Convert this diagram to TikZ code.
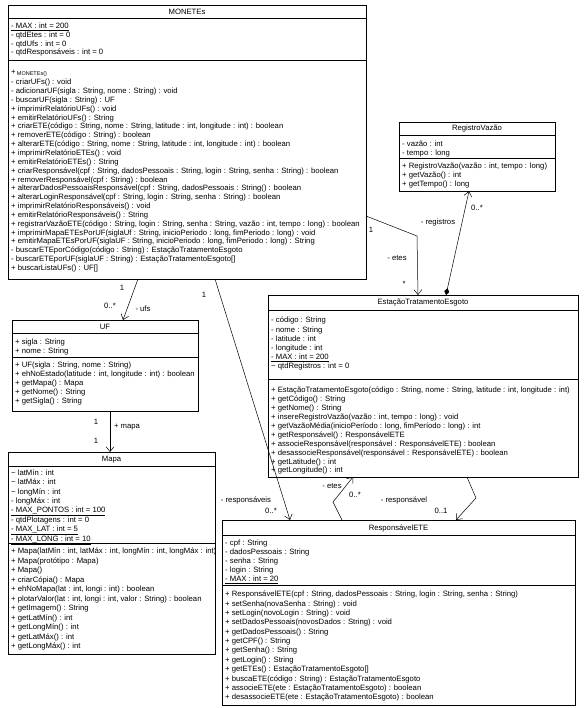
\documentclass[tikz,border=0pt]{standalone}
\usepackage{fontspec}
\setmainfont{Liberation Sans}
\usetikzlibrary{arrows.meta}
\newcommand\cfs[1]{\fontsize{7.7}{#1}\selectfont}
\newcommand\st{\rule{0pt}{6pt}}
\begin{document}
\begin{tikzpicture}[x=1pt,y=-1pt,
  classbox/.style={draw, line width=0.9pt, inner sep=0pt, outer sep=0pt, anchor=north west},
  sepline/.style={line width=0.6pt},
  ctitle/.style={font=\cfs{9}, inner sep=0pt},
  ctext/.style={font=\cfs{#1}, align=left, inner sep=0pt, anchor=north west},
  lbl/.style={font=\cfs{9}, inner sep=0pt},
  assoc/.style={line width=0.5pt, -{Straight Barb[length=5pt,width=8pt]}},
  comp/.style={line width=0.5pt, {Diamond[length=7pt,width=5pt,fill=black]}-{Straight Barb[length=5pt,width=8pt]}}
]
\useasboundingbox (0,0) rectangle (584,708);
\fill[white] (0,0) rectangle (584,708);

% ---------------- MONETEs ----------------
\node[classbox, minimum width=358pt, minimum height=274pt] (mon) at (8,5) {};
\node[ctitle] (monT) at (187,11.5) {MONETEs};
\draw[sepline] ([yshift=-13pt]mon.north west) -- ([yshift=-13pt]mon.north east);
\draw[sepline] ([yshift=-55pt]mon.north west) -- ([yshift=-55pt]mon.north east);
\node[ctext=8.7] (monA) at (11,22.6) {\st\underline{- MAX : int = 200}\\
- qtdEtes : int = 0\\
- qtdUfs : int = 0\\
- qtdResponsáveis : int = 0};
\node[ctext=8.85] (monM) at (11,69.6) {\st\raisebox{1pt}{+}\,{\fontsize{5.5}{8.85}\selectfont MONETEs()}\\
- criarUFs() : void\\
- adicionarUF(sigla : String, nome : String) : void\\
- buscarUF(sigla : String) : UF\\
+ imprimirRelatórioUFs() : void\\
+ emitirRelatórioUFs() : String\\
+ criarETE(código : String, nome : String, latitude : int, longitude : int) : boolean\\
+ removerETE(código : String) : boolean\\
+ alterarETE(código : String, nome : String, latitude : int, longitude : int) : boolean\\
+ imprimirRelatórioETEs() : void\\
+ emitirRelatórioETEs() : String\\
+ criarResponsável(cpf : String, dadosPessoais : String, login : String, senha : String) : boolean\\
+ removerResponsável(cpf : String) : boolean\\
+ alterarDadosPessoaisResponsável(cpf : String, dadosPessoais : String() : boolean\\
+ alterarLoginResponsável(cpf : String, login : String, senha : String) : boolean\\
+ imprimirRelatórioResponsáveis() : void\\
+ emitirRelatórioResponsáveis() : String\\
+ registrarVazãoETE(código : String, login : String, senha : String, vazão : int, tempo : long) : boolean\\
+ imprimirMapaETEsPorUF(siglaUf : String, inicioPeriodo : long, fimPeriodo : long) : void\\
+ emitirMapaETEsPorUF(siglaUF : String, inicioPeriodo : long, fimPeriodo : long) : String\\
- buscarETEporCódigo(código : String) : EstaçãoTratamentoEsgoto\\
- buscarETEporUF(siglaUF : String) : EstaçãoTratamentoEsgoto[]\\
+ buscarListaUFs() : UF[]};

% ---------------- RegistroVazão ----------------
\node[classbox, minimum width=156pt, minimum height=69pt] (rv) at (399,122) {};
\node[ctitle] (rvT) at (477,129) {RegistroVazão};
\draw[sepline] ([yshift=-13pt]rv.north west) -- ([yshift=-13pt]rv.north east);
\draw[sepline] ([yshift=-36pt]rv.north west) -- ([yshift=-36pt]rv.north east);
\node[ctext=8.5] (rvA) at (402,140.6) {\st - vazão : int\\
- tempo : long};
\node[ctext=9] (rvM) at (402,162.6) {\st + RegistroVazão(vazão : int, tempo : long)\\
+ getVazão() : int\\
+ getTempo() : long};

% ---------------- EstaçãoTratamentoEsgoto ----------------
\node[classbox, minimum width=310pt, minimum height=182pt] (est) at (268,295) {};
\node[ctitle] (estT) at (423,303) {EstaçãoTratamentoEsgoto};
\draw[sepline] ([yshift=-15pt]est.north west) -- ([yshift=-15pt]est.north east);
\draw[sepline] ([yshift=-84pt]est.north west) -- ([yshift=-84pt]est.north east);
\node[ctext=9.2] (estA) at (271,316.6) {\st - código : String\\
- nome : String\\
- latitude : int\\
- longitude : int\\
\underline{- MAX : int = 200}\\
\textasciitilde{} qtdRegistros : int = 0};
\node[ctext=8.9] (estM) at (271,386.6) {\st + EstaçãoTratamentoEsgoto(código : String, nome : String, latitude : int, longitude : int)\\
+ getCódigo() : String\\
+ getNome() : String\\
+ insereRegistroVazão(vazão : int, tempo : long) : void\\
+ getVazãoMédia(inicioPeríodo : long, fimPeríodo : long) : int\\
+ getResponsável() : ResponsávelETE\\
+ associeResponsável(responsável : ResponsávelETE) : boolean\\
+ desassocieResponsável(responsável : ResponsávelETE) : boolean\\
+ getLatitude() : int\\
+ getLongitude() : int};

% ---------------- UF ----------------
\node[classbox, minimum width=186pt, minimum height=91pt] (uf) at (12,320) {};
\node[ctitle] (ufT) at (105,327) {UF};
\draw[sepline] ([yshift=-13pt]uf.north west) -- ([yshift=-13pt]uf.north east);
\draw[sepline] ([yshift=-37pt]uf.north west) -- ([yshift=-37pt]uf.north east);
\node[ctext=9] (ufA) at (15,338.6) {\st + sigla : String\\
+ nome : String};
\node[ctext=9] (ufM) at (15,361.6) {\st + UF(sigla : String, nome : String)\\
+ ehNoEstado(latitude : int, longitude : int) : boolean\\
+ getMapa() : Mapa\\
+ getNome() : String\\
+ getSigla() : String};

% ---------------- Mapa ----------------
\node[classbox, minimum width=207pt, minimum height=202pt] (mapa) at (8,452) {};
\node[ctitle] (mapaT) at (111.5,460) {Mapa};
\draw[sepline] ([yshift=-14pt]mapa.north west) -- ([yshift=-14pt]mapa.north east);
\draw[sepline] ([yshift=-91pt]mapa.north west) -- ([yshift=-91pt]mapa.north east);
\node[ctext=9.1] (mapaA) at (11,469.6) {\st \textasciitilde{} latMín : int\\
\textasciitilde{} latMáx : int\\
\textasciitilde{} longMín : int\\
- longMáx : int\\
\underline{- MAX\_PONTOS : int = 100}\\
- qtdPlotagens : int = 0\\
\underline{- MAX\_LAT : int = 5}\\
\underline{- MAX\_LONG : int = 10}};
\node[ctext=9.5] (mapaM) at (11,547.6) {\st + Mapa(latMín : int, latMáx : int, longMín : int, longMáx : int)\\
+ Mapa(protótipo : Mapa)\\
+ Mapa()\\
+ criarCópia() : Mapa\\
+ ehNoMapa(lat : int, longi : int) : boolean\\
+ plotarValor(lat : int, longi : int, valor : String) : boolean\\
+ getImagem() : String\\
+ getLatMín() : int\\
+ getLongMín() : int\\
+ getLatMáx() : int\\
+ getLongMáx() : int};

% ---------------- ResponsávelETE ----------------
\node[classbox, minimum width=353pt, minimum height=185pt] (resp) at (222,520) {};
\node[ctitle] (respT) at (398.5,528) {ResponsávelETE};
\draw[sepline] ([yshift=-15pt]resp.north west) -- ([yshift=-15pt]resp.north east);
\draw[sepline] ([yshift=-65pt]resp.north west) -- ([yshift=-65pt]resp.north east);
\node[ctext=9] (respA) at (225,539.6) {\st - cpf : String\\
- dadosPessoais : String\\
- senha : String\\
- login : String\\
\underline{- MAX : int = 20}};
\node[ctext=9.36] (respM) at (225,590.6) {\st + ResponsávelETE(cpf : String, dadosPessoais : String, login : String, senha : String)\\
+ setSenha(novaSenha : String) : void\\
+ setLogin(novoLogin : String) : void\\
+ setDadosPessoais(novosDados : String) : void\\
+ getDadosPessoais() : String\\
+ getCPF() : String\\
+ getSenha() : String\\
+ getLogin() : String\\
+ getETEs() : EstaçãoTratamentoEsgoto[]\\
+ buscaETE(código : String) : EstaçãoTratamentoEsgoto\\
+ associeETE(ete : EstaçãoTratamentoEsgoto) : boolean\\
+ desassocieETE(ete : EstaçãoTratamentoEsgoto) : boolean};

% ---------------- connectors ----------------
% MONETEs -> UF
\draw[assoc] ([xshift=130pt]mon.south west) -- ([xshift=111pt]uf.north west);
\node[lbl] (l1a) at (122,288) {1};
\node[lbl] (l1b) at (110,306) {0..*};
\node[lbl] (l1c) at (143,309) {- ufs};
% UF -> Mapa
\draw[assoc] ([xshift=98pt]uf.south west) -- ([xshift=102pt]mapa.north west);
\node[lbl] (l2a) at (96,422) {1};
\node[lbl] (l2b) at (127,427) {+ mapa};
\node[lbl] (l2c) at (96,441) {1};
% MONETEs -> ResponsávelETE
\draw[assoc] ([xshift=207pt]mon.south west) -- ([xshift=68pt]resp.north west);
\node[lbl] (l3a) at (204,295) {1};
\node[lbl] (l3b) at (246,500) {- responsáveis};
\node[lbl] (l3c) at (271,511) {0..*};
% MONETEs -> Estação
\coordinate (b1) at (417,236);
\draw[assoc] ([yshift=-211pt]mon.north east) -- (b1) -- ([xshift=150pt]est.north west);
\node[lbl] (l4a) at (371,230) {1};
\node[lbl] (l4b) at (397,258) {- etes};
\node[lbl] (l4c) at (404,284) {*};
% Estação <>-> RegistroVazão
\draw[comp] ([xshift=178pt]est.north west) -- ([xshift=70pt]rv.south west);
\node[lbl] (l5a) at (438,223) {- registros};
\node[lbl] (l5b) at (477,208) {0..*};
% ResponsávelETE -> Estação (etes)
\coordinate (b2) at (333,502);
\draw[assoc] ([xshift=120pt]resp.north west) -- (b2) -- ([xshift=85pt]est.south west);
\node[lbl] (l6a) at (332,486) {- etes};
\node[lbl] (l6b) at (355,495) {0..*};
% Estação -> ResponsávelETE (responsável)
\coordinate (b3) at (476,498);
\draw[assoc] ([xshift=199pt]est.south west) -- (b3) -- ([xshift=234pt]resp.north west);
\node[lbl] (l7a) at (404,500) {- responsável};
\node[lbl] (l7b) at (441,511) {0..1};
\end{tikzpicture}
\end{document}
